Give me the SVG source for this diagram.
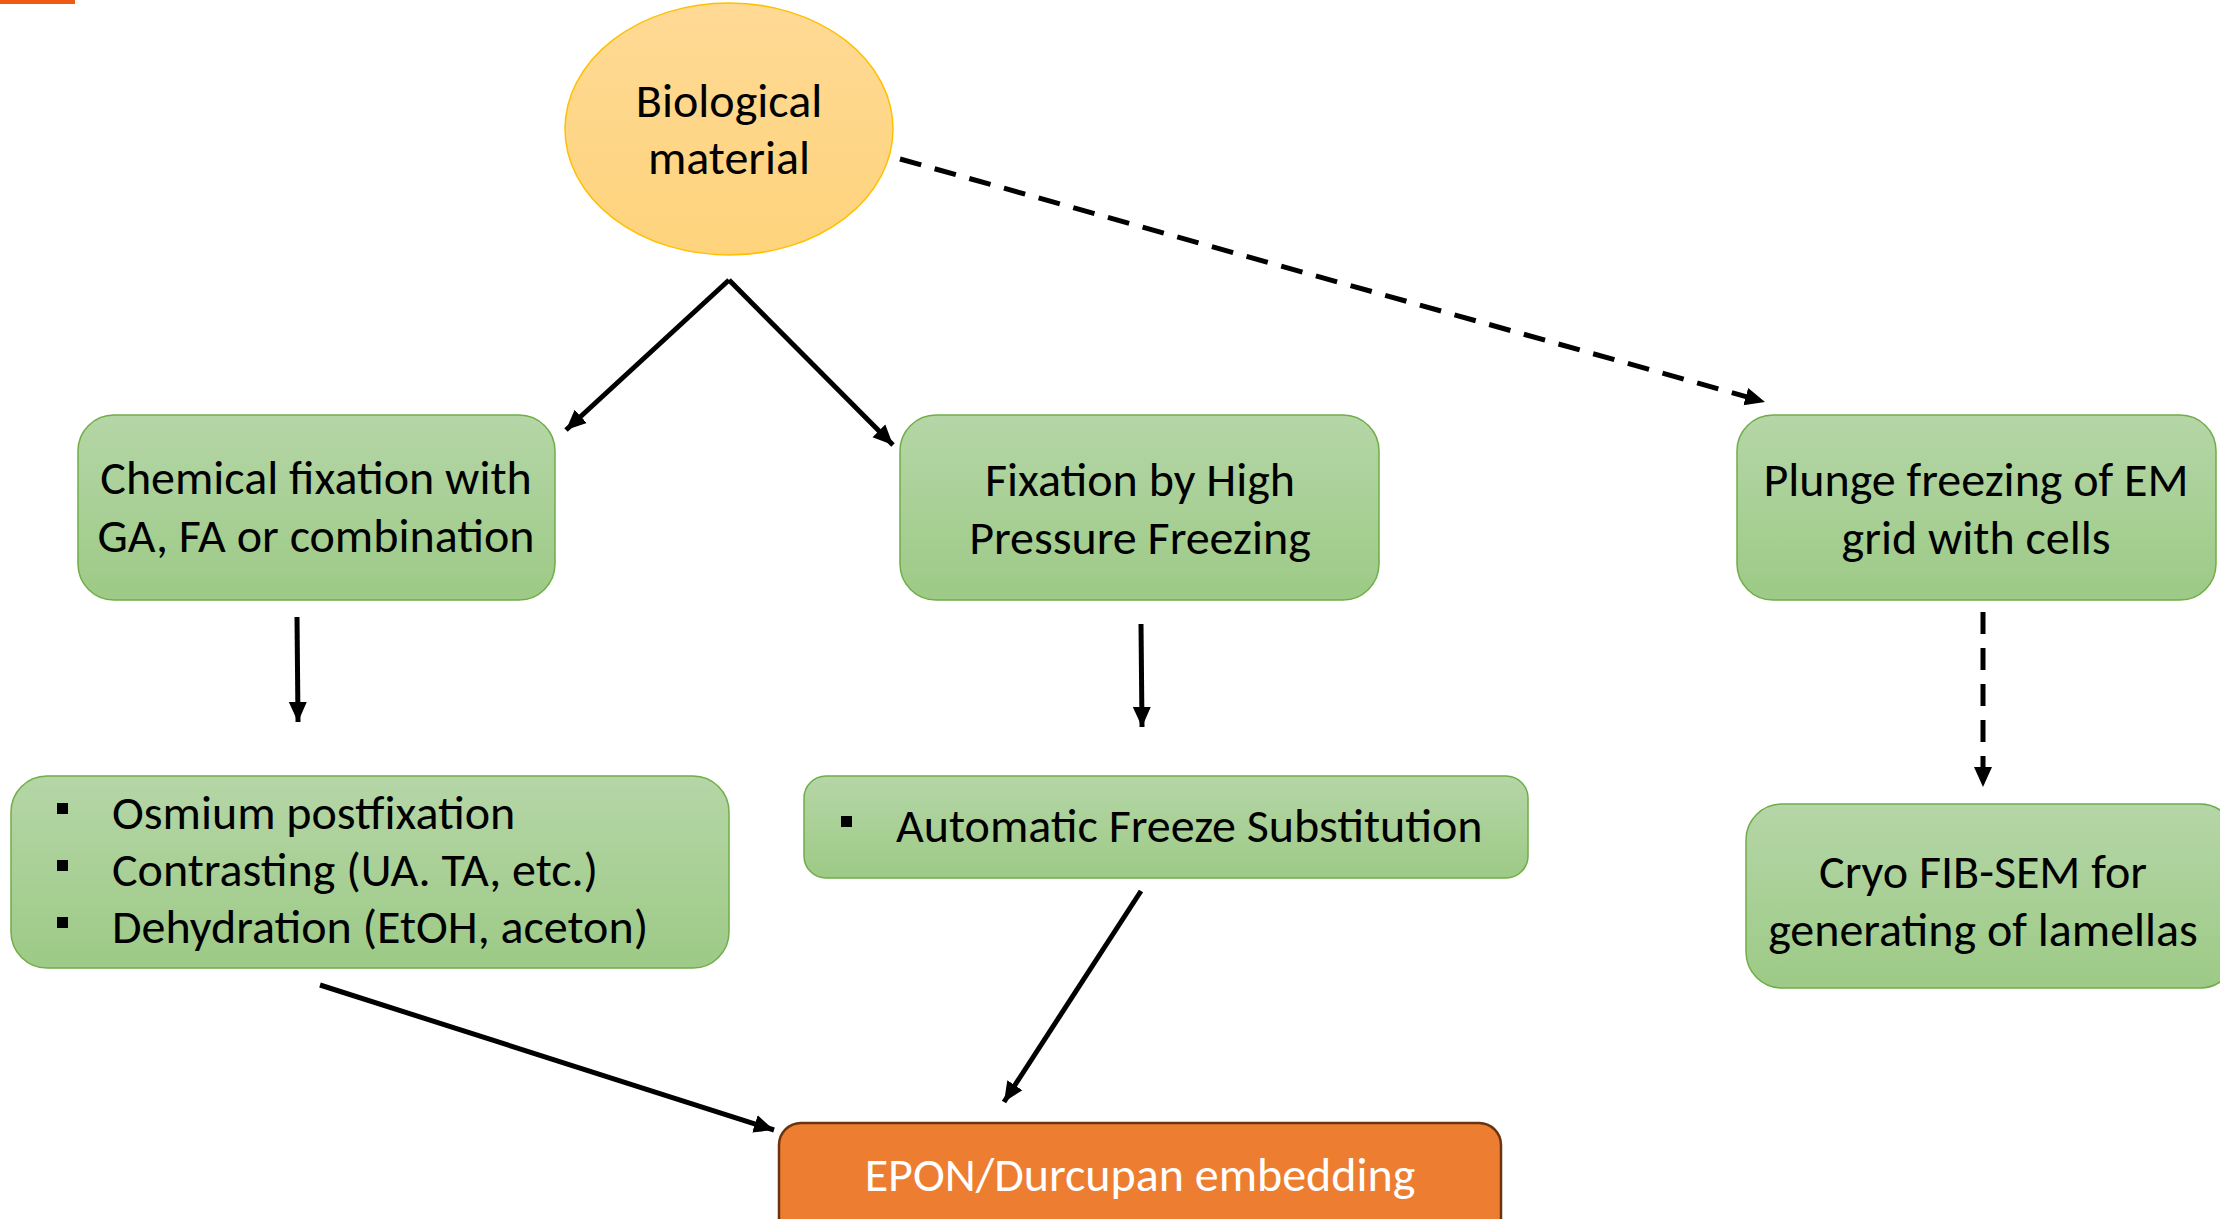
<svg xmlns="http://www.w3.org/2000/svg" width="2220" height="1219" viewBox="0 0 2220 1219">
<defs>
<linearGradient id="gGreen" x1="0" y1="0" x2="0" y2="1">
<stop offset="0" stop-color="#B5D6A7"/>
<stop offset="1" stop-color="#9DCA86"/>
</linearGradient>
<linearGradient id="gYellow" x1="0" y1="0" x2="0" y2="1">
<stop offset="0" stop-color="#FFDA95"/>
<stop offset="1" stop-color="#FED37C"/>
</linearGradient>
<marker id="ah" markerUnits="userSpaceOnUse" markerWidth="22" markerHeight="22" viewBox="0 0 22 22" refX="20" refY="11" orient="auto">
<path d="M0,2 L20,11 L0,20 z" fill="#000"/>
</marker>
<style>
.box{fill:url(#gGreen);stroke:#70AD47;stroke-width:1.5}
.t{font-family:Carlito,Calibri,Lato,"Liberation Sans",sans-serif;font-size:48px;fill:#000}
.c{text-anchor:middle}
.w{fill:#fff}
.sq{fill:#000}
.ln{stroke:#000;stroke-width:5;fill:none;marker-end:url(#ah)}
.ds{stroke-dasharray:22,14}
</style>
</defs>
<rect x="0" y="0" width="75" height="4" fill="#F05A16"/>
<g id="connectors">
<line class="ln" x1="729" y1="280" x2="566" y2="430"/>
<line class="ln" x1="729" y1="280" x2="893" y2="445"/>
<line class="ln ds" x1="900" y1="159" x2="1765" y2="402"/>
<line class="ln" x1="297" y1="617" x2="298" y2="722"/>
<line class="ln" x1="1141" y1="624" x2="1142" y2="727"/>
<line class="ln ds" x1="1983" y1="612" x2="1983" y2="787"/>
<line class="ln" x1="320" y1="985" x2="774" y2="1130"/>
<line class="ln" x1="1141" y1="891" x2="1004" y2="1102"/>
</g>
<g id="bio">
<ellipse cx="729" cy="129" rx="164" ry="126" fill="url(#gYellow)" stroke="#FFC000" stroke-width="1.5"/>
<text class="t c" x="729" y="117">Biological</text>
<text class="t c" x="729" y="174">material</text>
</g>
<g id="chem">
<rect class="box" x="78" y="415" width="477" height="185" rx="36"/>
<text class="t c" x="316" y="494">Chemical fixation with</text>
<text class="t c" x="316" y="552">GA, FA or combination</text>
</g>
<g id="hpf">
<rect class="box" x="900" y="415" width="479" height="185" rx="36"/>
<text class="t c" x="1140" y="496">Fixation by High</text>
<text class="t c" x="1140" y="554">Pressure Freezing</text>
</g>
<g id="plunge">
<rect class="box" x="1737" y="415" width="479" height="185" rx="36"/>
<text class="t c" x="1976" y="496">Plunge freezing of EM</text>
<text class="t c" x="1976" y="554">grid with cells</text>
</g>
<g id="osmium">
<rect class="box" x="11" y="776" width="718" height="192" rx="36"/>
<rect class="sq" x="57" y="803" width="11" height="11"/>
<rect class="sq" x="57" y="860" width="11" height="11"/>
<rect class="sq" x="57" y="917" width="11" height="11"/>
<text class="t" x="112" y="829">Osmium postfixation</text>
<text class="t" x="112" y="886">Contrasting (UA. TA, etc.)</text>
<text class="t" x="112" y="943">Dehydration (EtOH, aceton)</text>
</g>
<g id="afs">
<rect class="box" x="804" y="776" width="724" height="102" rx="22"/>
<rect class="sq" x="841" y="816" width="11" height="11"/>
<text class="t" x="896" y="842">Automatic Freeze Substitution</text>
</g>
<g id="cryo">
<rect class="box" x="1746" y="804" width="490" height="184" rx="36"/>
<text class="t c" x="1983" y="888">Cryo FIB-SEM for</text>
<text class="t c" x="1983" y="946">generating of lamellas</text>
</g>
<g id="epon">
<rect x="779" y="1123" width="722" height="130" rx="22" fill="#ED7D31" stroke="#6B3410" stroke-width="2.5"/>
<text class="t c w" x="1140" y="1191">EPON/Durcupan embedding</text>
</g>
</svg>
